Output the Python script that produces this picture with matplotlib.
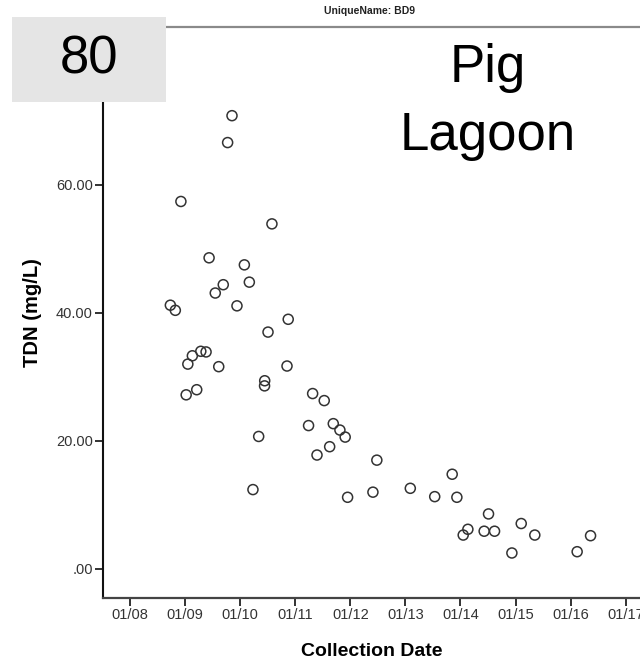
import matplotlib
matplotlib.use("Agg")
import matplotlib.pyplot as plt
import matplotlib.dates as mdates
from matplotlib.patches import Rectangle
import pandas as pd

plt.rcParams["font.family"] = ["Liberation Sans", "DejaVu Sans"]

# sample dates and total dissolved nitrogen, site BD9
collection_dates = [
    "2009-11-07", "2009-10-09", "2008-12-03", "2010-07-30", "2009-06-08",
    "2010-01-28", "2010-03-02", "2009-09-10", "2009-07-19", "2009-12-10",
    "2008-09-24", "2008-10-27", "2010-11-15", "2010-07-04", "2009-04-14",
    "2009-05-19", "2009-02-17", "2009-01-18", "2009-08-11", "2010-11-07",
    "2010-06-12", "2010-06-11", "2009-03-18", "2009-01-07", "2010-05-03",
    "2010-03-26", "2011-04-26", "2011-07-12", "2011-03-30", "2011-09-10",
    "2011-10-24", "2011-11-28", "2011-08-17", "2011-05-25", "2012-06-25",
    "2011-12-14", "2012-05-30", "2013-02-02", "2013-11-07", "2013-07-14",
    "2013-12-08", "2014-07-06", "2014-02-19", "2014-01-19", "2014-06-07",
    "2014-08-15", "2015-02-08", "2015-05-09", "2014-12-08", "2016-02-14",
    "2016-05-13",
]
tdn_values = [
    70.8, 66.6, 57.4, 53.9, 48.6,
    47.5, 44.8, 44.4, 43.1, 41.1,
    41.2, 40.4, 39.0, 37.0, 34.0,
    33.9, 33.3, 32.0, 31.6, 31.7,
    29.4, 28.6, 28.0, 27.2, 20.7,
    12.4, 27.4, 26.3, 22.4, 22.7,
    21.7, 20.6, 19.1, 17.8, 17.0,
    11.2, 12.0, 12.6, 14.8, 11.3,
    11.2, 8.6, 6.2, 5.3, 5.9,
    5.9, 7.1, 5.3, 2.5, 2.7,
    5.2,
]
y_ticks = [0, 20, 40, 60]
y_tick_labels = [".00", "20.00", "40.00", "60.00"]

dates = pd.to_datetime(collection_dates)

fig = plt.figure(figsize=(6.4, 6.62), dpi=100)
ax = fig.add_axes([0.1602, 0.0962, 0.8398, 0.8635])

ax.scatter(dates, tdn_values, s=52, facecolors="none",
           edgecolors="#333333", linewidths=1.1, zorder=3)

ax.set_xlim(pd.Timestamp("2007-07-02"), pd.Timestamp("2017-04-06"))
ax.set_ylim(-4.58, 84.7)

ax.xaxis.set_major_locator(mdates.YearLocator())
ax.xaxis.set_major_formatter(mdates.DateFormatter("%m/%y"))
ax.set_yticks(y_ticks)
ax.set_yticklabels(y_tick_labels)

ax.tick_params(axis="both", direction="out", length=6, width=1.3,
               labelsize=10.5, labelcolor="#333333", color="#222222")
ax.tick_params(axis="x", pad=1)
ax.tick_params(axis="y", pad=1)

ax.spines["right"].set_visible(False)
ax.spines["left"].set_color("#111111")
ax.spines["left"].set_linewidth(1.5)
ax.spines["bottom"].set_color("#444444")
ax.spines["bottom"].set_linewidth(1.6)
ax.spines["top"].set_color("#8a8a8a")
ax.spines["top"].set_linewidth(1.6)

ax.set_xlabel("Collection Date", fontsize=14, fontweight="bold", labelpad=15)
ax.set_ylabel("TDN (mg/L)", fontsize=14.5, fontweight="bold", labelpad=10)

# panel strip title
fig.text(370 / 640, 1 - 11 / 662, "UniqueName: BD9", ha="center", va="center",
         fontsize=7.5, fontweight="bold", color="#222222")

# label box in the top left corner
fig.patches.append(Rectangle((12 / 640, 1 - 101.7 / 662), 154 / 640, 84.7 / 662,
                             transform=fig.transFigure, facecolor="#e5e5e5",
                             edgecolor="none", zorder=5))
fig.text(89 / 640, 1 - 60 / 662, "80", ha="center", va="center",
         fontsize=38, zorder=6)

fig.text(488 / 640, 1 - 102 / 662, "Pig\nLagoon", ha="center", va="center",
         multialignment="center", fontsize=38, linespacing=1.45, zorder=6)

fig.savefig("out.png", dpi=100)
